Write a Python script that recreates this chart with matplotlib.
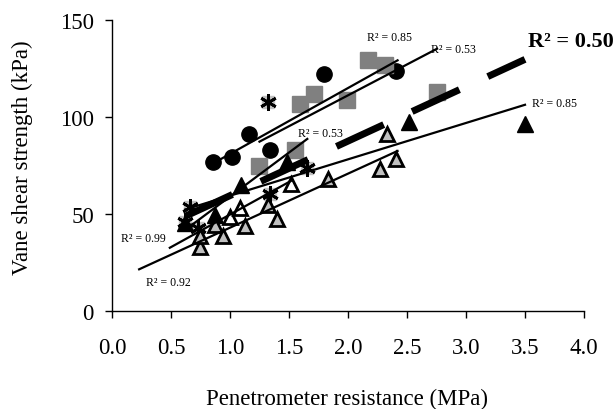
import numpy as np
import matplotlib
matplotlib.use('Agg')
import matplotlib.pyplot as plt

# markers (MPa, kPa)
circle_x = [0.86, 1.02, 1.16, 1.34, 1.80, 2.41]
circle_y = [77, 79.5, 91, 83, 122, 123.5]
square_x = [1.25, 1.55, 1.59, 1.71, 1.99, 2.17, 2.31, 2.75]
square_y = [75, 83, 106.5, 112, 109, 129.5, 127, 113]
star_x = [0.62, 0.66, 0.73, 1.32, 1.34, 1.65]
star_y = [46, 53.5, 43, 107.5, 60.5, 73.5]
blacktri_x = [0.62, 0.87, 1.09, 1.48, 2.52, 3.50]
blacktri_y = [45.5, 49.5, 65, 77, 97.5, 96.5]
graytri_x = [0.75, 0.75, 0.87, 0.94, 1.13, 1.32, 1.40, 1.83, 2.27, 2.33, 2.41]
graytri_y = [33, 38.7, 44.5, 38.5, 44, 54.5, 47.5, 68, 73, 91, 78.5]
whitetri_x = [1.00, 1.085, 1.52]
whitetri_y = [48.5, 53, 65.3]

# trendline end points (x0, x1), (y0, y1)
trend_circle = ([0.86, 2.42], [76.2, 129.2])
trend_square = ([1.25, 2.755], [87.3, 135.2])
trend_star = ([0.66, 1.655], [43.6, 88.7])
trend_blacktri = ([0.62, 3.50], [52.3, 106.3])
trend_graytri = ([0.23, 2.42], [21.5, 82.5])
trend_whitetri = ([0.49, 1.53], [32.6, 67.5])
trend_all = ([0.62, 3.50], [48.8, 129.7])

# R2 labels: text, x, y
r2_text = ['R² = 0.85', 'R² = 0.53', 'R² = 0.53', 'R² = 0.85', 'R² = 0.99', 'R² = 0.92']
r2_x = [2.35, 2.89, 1.77, 3.75, 0.27, 0.475]
r2_y = [141, 135, 92, 107, 37.5, 15]

plt.rcParams['font.family'] = ['Liberation Serif', 'DejaVu Serif']

fig = plt.figure(figsize=(6.15, 4.1), dpi=100)
ax = fig.add_axes([0.1821, 0.239, 0.7675, 0.7098])

ax.plot(circle_x, circle_y, 'o', ms=11, color='black', zorder=3)
ax.plot(square_x, square_y, 's', ms=11, color='#808080', zorder=3)
ax.plot(star_x, star_y, 's', ms=8, color='#c0c0c0', zorder=3)
ax.plot(star_x, star_y, marker=(6, 2, 0), ls='none', ms=12, mew=2, color='black', zorder=3)
ax.plot(blacktri_x, blacktri_y, '^', ms=11, color='black', zorder=3)
ax.plot(graytri_x, graytri_y, '^', ms=10.5, mfc='#c0c0c0', mec='black', mew=2, zorder=3)
ax.plot(whitetri_x, whitetri_y, '^', ms=10.5, mfc='white', mec='black', mew=2, zorder=3)

for tx, ty in [trend_circle, trend_square, trend_star, trend_blacktri, trend_graytri, trend_whitetri]:
    ax.plot(tx, ty, color='black', lw=1.6, zorder=4)
ax.plot(trend_all[0], trend_all[1], color='black', lw=5, ls=(0, (7.5, 4.5)),
        solid_capstyle='butt', dash_capstyle='butt', zorder=4)

for t, x, y in zip(r2_text, r2_x, r2_y):
    ax.text(x, y, t, fontsize=8.5, ha='center', va='center')
ax.text(3.89, 139, 'R² = 0.50', fontsize=16, fontweight='bold', ha='center', va='center', clip_on=False)

ax.set_xlim(0, 4)
ax.set_ylim(0, 150)
ax.set_xticks(np.arange(0, 4.01, 0.5))
ax.set_xticklabels(['%.1f' % v for v in np.arange(0, 4.01, 0.5)])
ax.set_yticks([0, 50, 100, 150])
ax.spines['top'].set_visible(False)
ax.spines['right'].set_visible(False)
ax.spines['left'].set_linewidth(1.0)
ax.spines['bottom'].set_linewidth(1.0)
ax.tick_params(axis='both', direction='out', length=5, width=1.0, labelsize=16.5)
ax.tick_params(axis='x', pad=14)
ax.tick_params(axis='y', pad=8)

ax.set_xlabel('Penetrometer resistance (MPa)', fontsize=16.5)
ax.set_ylabel('Vane shear strength (kPa)', fontsize=16.5)
ax.xaxis.set_label_coords(0.498, -0.265)
ax.yaxis.set_label_coords(-0.167, 0.53)

fig.savefig('out.png', dpi=100)
